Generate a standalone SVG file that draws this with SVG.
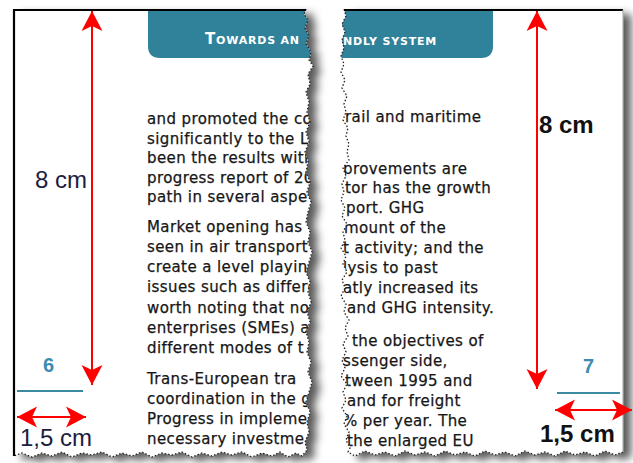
<svg xmlns="http://www.w3.org/2000/svg" width="633" height="463" viewBox="0 0 633 463">
<style>
.body{font-family:"DejaVu Sans","Liberation Sans",sans-serif;font-size:15px;fill:#161616;stroke:#161616;stroke-width:0.25;letter-spacing:0.4px}
.hdr{font-family:"DejaVu Sans","Liberation Sans",sans-serif;font-weight:bold;fill:#ffffff;letter-spacing:0.8px}
.dim{font-family:"Liberation Sans",Arial,sans-serif;font-size:24px}
.num{font-family:"Liberation Sans",Arial,sans-serif;font-size:20px;font-weight:bold;fill:#3d8db0}
.red{stroke:#ff0000;stroke-width:2;fill:none}
.teal{stroke:#3a8aa2;stroke-width:2}
.tear{fill:none;stroke:#222;stroke-width:1.3;stroke-dasharray:1.5 2}
</style>
<defs>
<marker id="ah" markerUnits="userSpaceOnUse" markerWidth="22" markerHeight="22" viewBox="0 -11 22 22" refX="20" refY="0" orient="auto-start-reverse">
<path d="M20,0 L0,-10.5 L5,0 L0,10.5 Z" fill="#ff0000"/>
</marker>
<filter id="sh" x="-10%" y="-10%" width="130%" height="130%">
<feDropShadow dx="8" dy="5" stdDeviation="4" flood-color="#000" flood-opacity="0.65"/>
</filter>
<path id="lp" d="M14,9 L306,9 L304,14 308,20 305,28 309,36 306,44 311,52 309,60 313,66 308,74 310,84 306,92 309,102 307,112 310,122 306,132 309,142 305,152 308,162 306,172 310,182 307,192 311,202 308,212 306,222 310,232 308,242 312,252 309,262 306,272 310,282 308,292 311,302 307,312 310,322 306,332 309,342 307,352 311,362 308,372 312,382 309,392 306,402 310,412 307,422 309,432 305,442 307,450 302,456 296,453 288,457 280,452 272,456 262,453 252,457 242,452 232,455 222,452 212,456 202,453 192,457 182,452 172,455 162,453 152,457 142,452 132,456 122,453 112,457 102,452 92,455 82,453 72,457 62,452 52,456 42,453 32,457 22,453 14,456 Z"/>
<path id="rp" d="M344,9 L623,9 L623,452 615,455 605,451 595,456 585,452 575,455 565,451 555,456 545,452 535,455 525,451 515,456 505,452 495,455 485,451 475,456 465,452 455,455 445,451 435,456 425,452 415,455 405,451 395,456 385,452 375,455 365,451 355,456 348,452 350,448 346,440 349,432 344,424 347,416 342,408 346,400 343,392 347,384 341,376 345,368 342,360 346,352 343,344 348,336 345,328 349,320 344,312 346,304 341,296 345,288 342,280 347,272 343,264 346,256 341,248 345,240 343,232 347,224 342,216 345,208 341,200 344,192 342,184 346,176 343,168 349,160 347,152 349,144 346,136 348,128 343,120 346,112 344,104 347,96 342,88 345,80 341,72 344,64 341,56 344,48 342,40 345,32 342,24 346,16 Z"/>
<clipPath id="lc"><use href="#lp"/></clipPath>
<clipPath id="rc"><use href="#rp"/></clipPath>
</defs>
<rect width="633" height="463" fill="#ffffff"/>

<g id="page-left">
<use href="#lp" fill="#ffffff" filter="url(#sh)"/>
<g clip-path="url(#lc)">
<path d="M148,11 H320 V58 H160 Q148,58 148,46 Z" fill="#2f8299"/>
<text class="hdr" x="205" y="44"><tspan font-size="15">T</tspan><tspan font-size="11">OWARDS AN</tspan></text>
<g class="body">
<text x="147" y="124">and promoted the co</text>
<text x="147" y="144">significantly to the Li</text>
<text x="147" y="163">been the results with</text>
<text x="147" y="183">progress report of 20</text>
<text x="147" y="202">path in several aspe</text>
<text x="147" y="232">Market opening has</text>
<text x="147" y="252">seen in air transport</text>
<text x="147" y="272">create a level playin</text>
<text x="147" y="292">issues such as differe</text>
<text x="147" y="313">worth noting that no</text>
<text x="147" y="333">enterprises (SMEs) a</text>
<text x="147" y="353">different modes of t</text>
<text x="147" y="384">Trans-European tra</text>
<text x="147" y="404">coordination in the g</text>
<text x="147" y="424">Progress in impleme</text>
<text x="147" y="444">necessary investme</text>
</g>
</g>
<path class="tear" d="M306,9 L304,14 308,20 305,28 309,36 306,44 311,52 309,60 313,66 308,74 310,84 306,92 309,102 307,112 310,122 306,132 309,142 305,152 308,162 306,172 310,182 307,192 311,202 308,212 306,222 310,232 308,242 312,252 309,262 306,272 310,282 308,292 311,302 307,312 310,322 306,332 309,342 307,352 311,362 308,372 312,382 309,392 306,402 310,412 307,422 309,432 305,442 307,450 302,456 296,453 288,457 280,452 272,456 262,453 252,457 242,452 232,455 222,452 212,456 202,453 192,457 182,452 172,455 162,453 152,457 142,452 132,456 122,453 112,457 102,452 92,455 82,453 72,457 62,452 52,456 42,453 32,457 22,453 14,456"/>
<path d="M14,456 V10 H306" fill="none" stroke="#000" stroke-width="2.2"/>
</g>

<g id="page-right">
<use href="#rp" fill="#ffffff" filter="url(#sh)"/>
<g clip-path="url(#rc)">
<path d="M330,11 H493 V46 Q493,58 481,58 H330 Z" fill="#2f8299"/>
<text class="hdr" x="343" y="45" font-size="11">NDLY SYSTEM</text>
<g class="body">
<text x="345" y="122">rail and maritime</text>
<text x="343" y="174">provements are</text>
<text x="345" y="193">tor has the growth</text>
<text x="346" y="213">port. GHG</text>
<text x="344" y="233">mount of the</text>
<text x="343" y="253">t activity; and the</text>
<text x="343" y="273">lysis to past</text>
<text x="343" y="293">atly increased its</text>
<text x="347" y="313">and GHG intensity.</text>
<text x="352" y="346">the objectives of</text>
<text x="343" y="366">ssenger side,</text>
<text x="345" y="386">tween 1995 and</text>
<text x="347" y="406">and for freight</text>
<text x="343" y="426">% per year. The</text>
<text x="347" y="446">the enlarged EU</text>
</g>
</g>
<path class="tear" d="M623,452 615,455 605,451 595,456 585,452 575,455 565,451 555,456 545,452 535,455 525,451 515,456 505,452 495,455 485,451 475,456 465,452 455,455 445,451 435,456 425,452 415,455 405,451 395,456 385,452 375,455 365,451 355,456 348,452 350,448 346,440 349,432 344,424 347,416 342,408 346,400 343,392 347,384 341,376 345,368 342,360 346,352 343,344 348,336 345,328 349,320 344,312 346,304 341,296 345,288 342,280 347,272 343,264 346,256 341,248 345,240 343,232 347,224 342,216 345,208 341,200 344,192 342,184 346,176 343,168 349,160 347,152 349,144 346,136 348,128 343,120 346,112 344,104 347,96 342,88 345,80 341,72 344,64 341,56 344,48 342,40 345,32 342,24 346,16 344,9"/>
<path d="M344,10 H623" fill="none" stroke="#000" stroke-width="2.2"/>
<path d="M623,10 V452" fill="none" stroke="#b0b0b0" stroke-width="1.2"/>
</g>

<g id="connectors">
<line class="red" x1="92" y1="11" x2="92" y2="385" marker-start="url(#ah)" marker-end="url(#ah)"/>
<line class="red" x1="537" y1="11" x2="537" y2="389" marker-start="url(#ah)" marker-end="url(#ah)"/>
<line class="red" x1="17" y1="417" x2="86" y2="417" marker-start="url(#ah)" marker-end="url(#ah)"/>
<line class="red" x1="555" y1="410" x2="632" y2="410" marker-start="url(#ah)" marker-end="url(#ah)"/>
<line class="teal" x1="17" y1="391" x2="83" y2="391"/>
<line class="teal" x1="557" y1="393" x2="620" y2="393"/>
</g>

<g id="labels">
<text class="dim" x="35" y="188" fill="#1c2040">8 cm</text>
<text class="dim" x="20" y="446" fill="#1c2040">1,5 cm</text>
<text class="dim" x="539" y="133" fill="#111" font-weight="bold">8 cm</text>
<text class="dim" x="540" y="442" fill="#111" font-weight="bold">1,5 cm</text>
<text class="num" x="43" y="372">6</text>
<text class="num" x="583" y="373">7</text>
</g>
</svg>
